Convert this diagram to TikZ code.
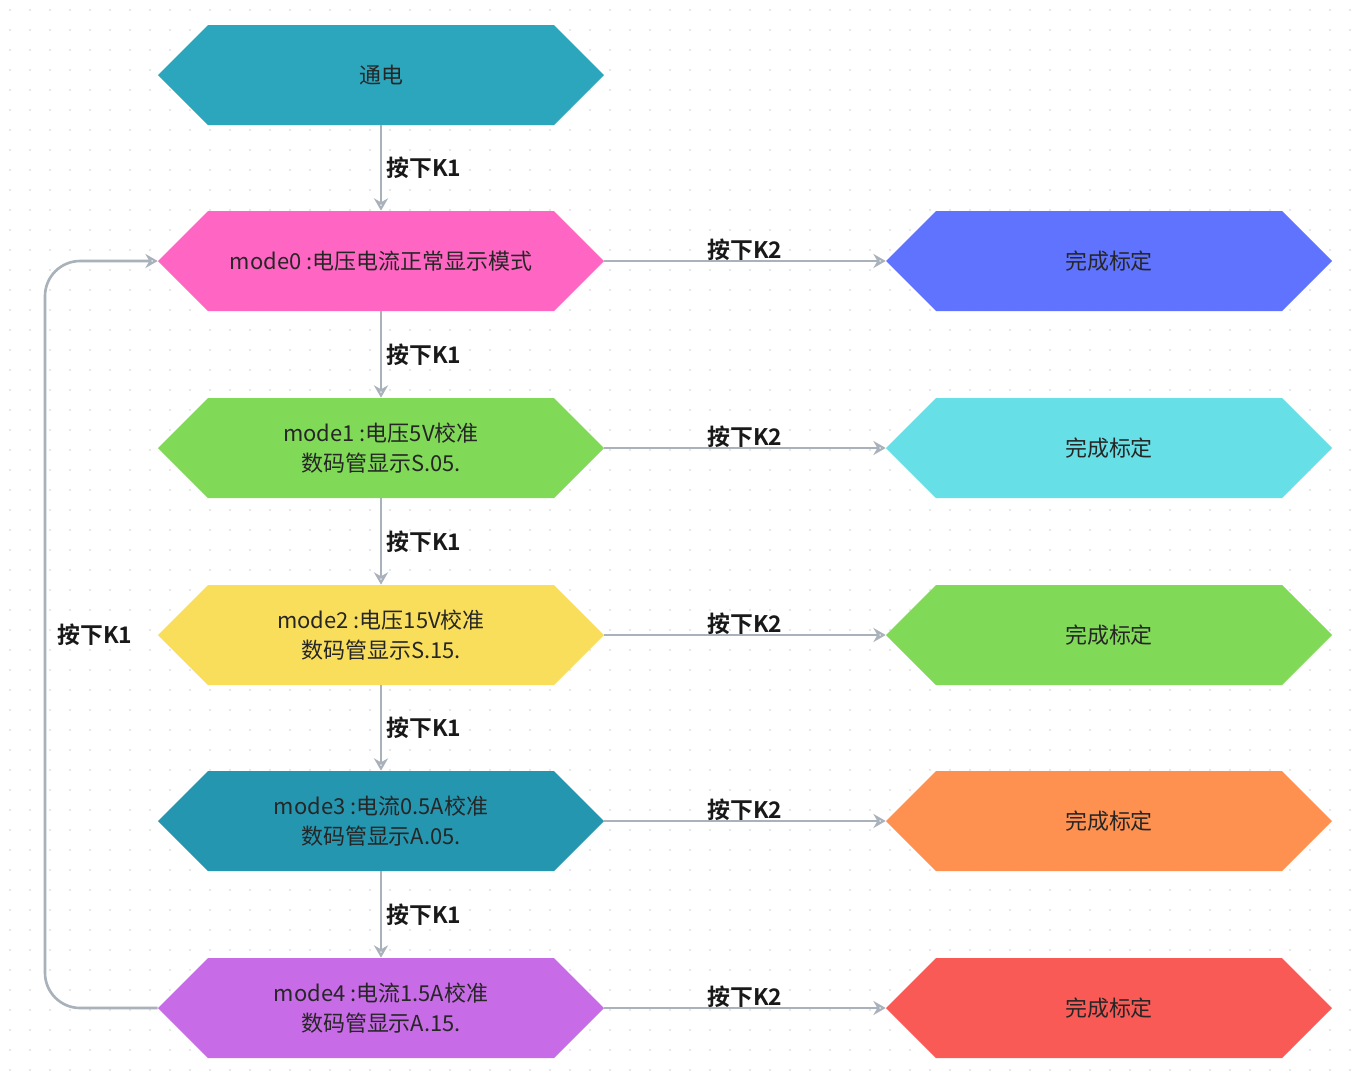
\documentclass[tikz,border=0pt]{standalone}
\usepackage{fontspec}
\setmainfont{Noto Sans CJK SC}
\newfontfamily\boldcjk{Noto Sans CJK SC Bold}
\usetikzlibrary{arrows.meta}
\definecolor{arrowgray}{HTML}{A9B2BA}
\definecolor{powercol}{HTML}{2BA6BC}
\definecolor{pinkcol}{HTML}{FF66C4}
\definecolor{greencol}{HTML}{80D957}
\definecolor{yellowcol}{HTML}{F9DE5C}
\definecolor{tealcol}{HTML}{2596B0}
\definecolor{purplecol}{HTML}{C86BE6}
\definecolor{bluecol}{HTML}{5F73FF}
\definecolor{cyancol}{HTML}{66E0E6}
\definecolor{orangecol}{HTML}{FF9150}
\definecolor{redcol}{HTML}{FA5A56}
% hexagon box: name, x, y, colour, text
\newcommand{\hexbox}[5]{
  \fill[#4] (#2-223,#3) -- (#2-173,#3-50) -- (#2+173,#3-50) -- (#2+223,#3)
    -- (#2+173,#3+50) -- (#2-173,#3+50) -- cycle;
  \node[hexnode] (#1) at (#2,#3) {#5};
}
\begin{document}
\begin{tikzpicture}[x=0.02cm,y=-0.02cm,
    hexnode/.style={minimum width=8.92cm,minimum height=2cm,inner sep=0pt,
      align=center,font=\fontsize{12.5}{17}\selectfont,text=black!85},
    link/.style={arrowgray,line width=1.5pt,-{Stealth[length=7pt,width=8pt,open]}},
    keylabel/.style={font=\boldcjk\fontsize{13}{15}\selectfont,text=black!90}]
    % background
    \fill[white] (0,0) rectangle (1353,1086);
    \foreach \x in {10,30,...,1350}
      \foreach \y in {10,30,...,1080}
        \fill[black!12] (\x,\y) circle (0.6pt);
    %left column
    \hexbox{power}{381}{75}{powercol}{通电}
    \hexbox{m0}{381}{261}{pinkcol}{mode0 :电压电流正常显示模式}
    \hexbox{m1}{381}{448}{greencol}{mode1 :电压5V校准\\数码管显示S.05.}
    \hexbox{m2}{381}{635}{yellowcol}{mode2 :电压15V校准\\数码管显示S.15.}
    \hexbox{m3}{381}{821}{tealcol}{mode3 :电流0.5A校准\\数码管显示A.05.}
    \hexbox{m4}{381}{1008}{purplecol}{mode4 :电流1.5A校准\\数码管显示A.15.}
    %right column
    \hexbox{d0}{1109}{261}{bluecol}{完成标定}
    \hexbox{d1}{1109}{448}{cyancol}{完成标定}
    \hexbox{d2}{1109}{635}{greencol}{完成标定}
    \hexbox{d3}{1109}{821}{orangecol}{完成标定}
    \hexbox{d4}{1109}{1008}{redcol}{完成标定}
    %arrows
    \foreach \a/\b in {power/m0,m0/m1,m1/m2,m2/m3,m3/m4}
      \draw[link] (\a.south) -- node[keylabel,right,xshift=-1pt]{按下K1} (\b.north);
    \foreach \i in {0,...,4}
      \draw[link] (m\i.east) -- node[keylabel,above,yshift=-4pt]{按下K2} (d\i.west);
    \coordinate (loopbot) at (45,1008);
    \coordinate (looptop) at (45,261);
    \draw[link,rounded corners=20pt] (m4.west) -- (loopbot) -- (looptop) -- (m0.west);
    \node[keylabel,fill=white,inner sep=2pt] (loopkey) at (95,635) {按下K1};
\end{tikzpicture}
\end{document}
